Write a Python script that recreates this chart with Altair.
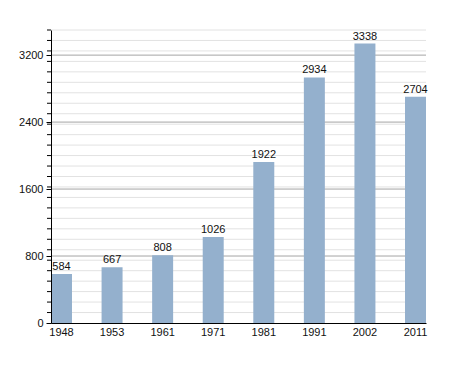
import altair as alt
import pandas as pd

years = ["1948", "1953", "1961", "1971", "1981", "1991", "2002", "2011"]
population = [584, 667, 808, 1026, 1922, 2934, 3338, 2704]
major_ticks = [0, 800, 1600, 2400, 3200]
minor_ticks = [125 * i for i in range(1, 29)]

df = pd.DataFrame({"year": years, "pop": population})
major_df = pd.DataFrame({"v": major_ticks[1:]})
minor_df = pd.DataFrame({"v": minor_ticks})

FONT = "Liberation Sans"
yscale = alt.Scale(domain=[0, 3500], nice=False, zero=True)
xscale = alt.Scale(paddingInner=0.585, paddingOuter=0)
yaxis = alt.Axis(values=major_ticks, grid=False, tickSize=5, format="d",
                 tickColor="#000000", domainColor="#000000",
                 labelFont=FONT, labelFontSize=11, labelColor="#111111",
                 labelPadding=3, zindex=2, title=None)

minor_grid = alt.Chart(minor_df).mark_rule(color="#e2e2e2", strokeWidth=1).encode(
    y=alt.Y("v:Q", scale=yscale, axis=yaxis, title=None)
)
minor_tick = alt.Chart(minor_df).mark_rule(color="#000000", strokeWidth=1).encode(
    y=alt.Y("v:Q", scale=yscale, axis=yaxis, title=None),
    x=alt.value(-4),
    x2=alt.value(0),
)
major_grid = alt.Chart(major_df).mark_rule(color="#a4a4a4", strokeWidth=1).encode(
    y=alt.Y("v:Q", scale=yscale, axis=yaxis, title=None)
)

bars = alt.Chart(df).mark_bar(color="#94b0cd").encode(
    x=alt.X("year:N", scale=xscale, sort=years, title=None,
            axis=alt.Axis(labelAngle=0, ticks=False, domainColor="#000000",
                          labelFont=FONT, labelFontSize=11, labelColor="#111111",
                          labelPadding=3, grid=False, zindex=2)),
    y=alt.Y("pop:Q", scale=yscale, title=None, axis=yaxis),
)
labels = alt.Chart(df).mark_text(baseline="bottom", dy=-2, font=FONT, fontSize=11,
                                 color="#111111").encode(
    x=alt.X("year:N", scale=xscale, sort=years),
    y=alt.Y("pop:Q", scale=yscale, axis=yaxis, title=None),
    text="pop:Q",
)

chart = alt.layer(minor_grid, major_grid, minor_tick, bars, labels).properties(
    width=375,
    height=293,
    autosize=alt.AutoSizeParams(type="none"),
    padding={"left": 43, "top": 22, "right": 21, "bottom": 42},
).configure_view(stroke=None)

chart.save("out.html", embed_options={"renderer": "svg", "actions": False})
